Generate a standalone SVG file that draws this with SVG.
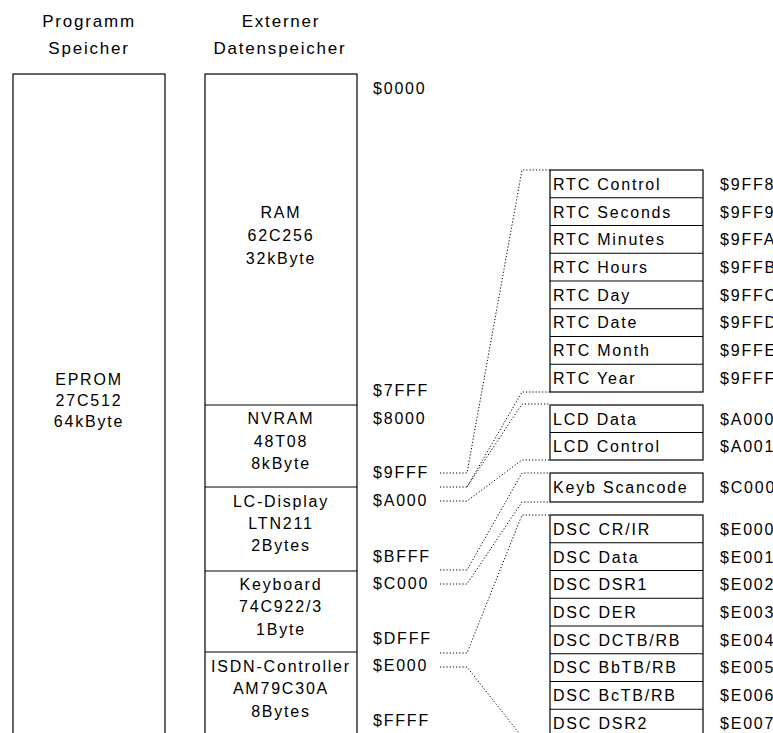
<svg xmlns="http://www.w3.org/2000/svg" width="773" height="733" viewBox="0 0 773 733">
<style>
text{font-family:"Liberation Sans",Arial,sans-serif;font-size:16px;letter-spacing:1.8px;fill:#000}
.h{font-size:17px}
.c{text-anchor:middle}
.box{fill:#fff;stroke:#000;stroke-width:1.2}
.sep{stroke:#000;stroke-width:1.2;fill:none}
.dot{fill:none;stroke:#000;stroke-width:1;stroke-dasharray:1.2 2}
</style>
<rect width="773" height="733" fill="#fff"/>
<g id="headers">
<text class="h c" x="89" y="27">Programm</text>
<text class="h c" x="89" y="54">Speicher</text>
<text class="h c" x="281" y="27">Externer</text>
<text class="h c" x="280" y="54">Datenspeicher</text>
</g>
<g id="eprom">
<rect class="box" x="13" y="74" width="152" height="700"/>
<text class="c" x="89" y="385">EPROM</text>
<text class="c" x="89" y="406">27C512</text>
<text class="c" x="89" y="427">64kByte</text>
</g>
<g id="extmem">
<rect class="box" x="205" y="74" width="152" height="700"/>
</g>
<g id="ram">
<text class="c" x="281" y="218">RAM</text>
<text class="c" x="281" y="241">62C256</text>
<text class="c" x="281" y="264">32kByte</text>
</g>
<g id="nvram">
<line class="sep" x1="205" y1="405" x2="357" y2="405"/>
<text class="c" x="281" y="424">NVRAM</text>
<text class="c" x="281" y="447">48T08</text>
<text class="c" x="281" y="469">8kByte</text>
</g>
<g id="lcdisplay">
<line class="sep" x1="205" y1="487" x2="357" y2="487"/>
<text class="c" x="281" y="507">LC-Display</text>
<text class="c" x="281" y="529">LTN211</text>
<text class="c" x="281" y="551">2Bytes</text>
</g>
<g id="keyboard">
<line class="sep" x1="205" y1="571" x2="357" y2="571"/>
<text class="c" x="281" y="590">Keyboard</text>
<text class="c" x="281" y="612">74C922/3</text>
<text class="c" x="281" y="635">1Byte</text>
</g>
<g id="isdn">
<line class="sep" x1="205" y1="652" x2="357" y2="652"/>
<text class="c" x="281" y="672">ISDN-Controller</text>
<text class="c" x="281" y="694">AM79C30A</text>
<text class="c" x="281" y="717">8Bytes</text>
</g>
<g id="addresses">
<text x="373" y="94">$0000</text>
<text x="373" y="396">$7FFF</text>
<text x="373" y="424">$8000</text>
<text x="373" y="478">$9FFF</text>
<text x="373" y="506">$A000</text>
<text x="373" y="562">$BFFF</text>
<text x="373" y="589">$C000</text>
<text x="373" y="644">$DFFF</text>
<text x="373" y="671">$E000</text>
<text x="373" y="726">$FFFF</text>
</g>
<g id="connectors">
<path class="dot" d="M440 473H467L522 170H550"/>
<path class="dot" d="M440 487H467L522 392H550"/>
<path class="dot" d="M467 487L522 404H550"/>
<path class="dot" d="M440 501H467L522 460H550"/>
<path class="dot" d="M440 570H467L522 473H550"/>
<path class="dot" d="M440 584H467L522 502H550"/>
<path class="dot" d="M440 653H467L522 515H550"/>
<path class="dot" d="M440 667H467L522 737H550"/>
</g>
<g id="rtc">
<rect class="box" x="550" y="170" width="153" height="222"/>
<path class="sep" d="M550 197.75H703M550 225.5H703M550 253.25H703M550 281H703M550 308.75H703M550 336.5H703M550 364.25H703"/>
<text x="553" y="190">RTC Control</text>
<text x="553" y="218">RTC Seconds</text>
<text x="553" y="245">RTC Minutes</text>
<text x="553" y="273">RTC Hours</text>
<text x="553" y="301">RTC Day</text>
<text x="553" y="328">RTC Date</text>
<text x="553" y="356">RTC Month</text>
<text x="553" y="384">RTC Year</text>
<text x="720" y="190">$9FF8</text>
<text x="720" y="218">$9FF9</text>
<text x="720" y="245">$9FFA</text>
<text x="720" y="273">$9FFB</text>
<text x="720" y="301">$9FFC</text>
<text x="720" y="328">$9FFD</text>
<text x="720" y="356">$9FFE</text>
<text x="720" y="384">$9FFF</text>
</g>
<g id="lcd">
<rect class="box" x="550" y="405" width="153" height="55"/>
<path class="sep" d="M550 432.5H703"/>
<text x="553" y="425">LCD Data</text>
<text x="553" y="452">LCD Control</text>
<text x="720" y="425">$A000</text>
<text x="720" y="452">$A001</text>
</g>
<g id="keyb">
<rect class="box" x="550" y="473" width="153" height="29"/>
<text x="553" y="493">Keyb Scancode</text>
<text x="720" y="493">$C000</text>
</g>
<g id="dsc">
<rect class="box" x="550" y="515" width="153" height="222"/>
<path class="sep" d="M550 542.75H703M550 570.5H703M550 598.25H703M550 626H703M550 653.75H703M550 681.5H703M550 709.25H703"/>
<text x="553" y="535">DSC CR/IR</text>
<text x="553" y="563">DSC Data</text>
<text x="553" y="590">DSC DSR1</text>
<text x="553" y="618">DSC DER</text>
<text x="553" y="646">DSC DCTB/RB</text>
<text x="553" y="673">DSC BbTB/RB</text>
<text x="553" y="701">DSC BcTB/RB</text>
<text x="553" y="729">DSC DSR2</text>
<text x="720" y="535">$E000</text>
<text x="720" y="563">$E001</text>
<text x="720" y="590">$E002</text>
<text x="720" y="618">$E003</text>
<text x="720" y="646">$E004</text>
<text x="720" y="673">$E005</text>
<text x="720" y="701">$E006</text>
<text x="720" y="729">$E007</text>
</g>
</svg>
